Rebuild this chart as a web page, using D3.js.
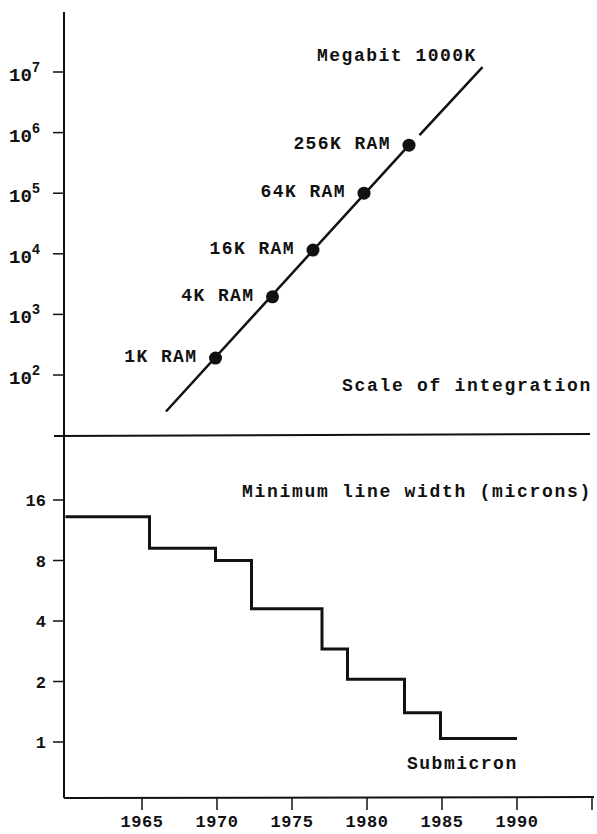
<!DOCTYPE html>
<html>
<head>
<meta charset="utf-8">
<script src="https://d3js.org/d3.v7.min.js"></script>
<style>
  body { margin: 0; background: #fff; }
  text { font-family: "Liberation Mono", "DejaVu Sans Mono", monospace; font-weight: bold; fill: #111; }
</style>
</head>
<body>
<script>
// scale of integration (bits per chip)
var ramNames = ["1K RAM", "4K RAM", "16K RAM", "64K RAM", "256K RAM"];
var ramYears = [1969.9, 1973.7, 1976.4, 1979.8, 1982.8];
var ramBits = [190, 1950, 11500, 100000, 620000];
// trend line, drawn in two pieces with a gap after 256K
var trendA = [[1966.6, 25], [1982.8, 620000]];
var trendB = [[1983.5, 910000], [1987.7, 12000000]];

// minimum line width (microns), step changes
var stepYears = [1959.9, 1965.5, 1969.9, 1972.3, 1977.0, 1978.7, 1982.5, 1984.9, 1990];
var stepWidths = [13.2, 9.2, 8.0, 4.6, 2.9, 2.05, 1.4, 1.04, 1.04];

var topTicks = [2, 3, 4, 5, 6, 7];
var botTicks = [1, 2, 4, 8, 16];
var yearTicks = [1965, 1970, 1975, 1980, 1985, 1990, 1995];

var W = 597, H = 834;
var svg = d3.select("body").append("svg").attr("width", W).attr("height", H);

var x = d3.scaleLinear().domain([1960, 1995]).range([67, 592]);
var yTop = d3.scaleLog().domain([1e2, 1e7]).range([375, 72]);
var yBot = d3.scaleLog().base(2).domain([1, 16]).range([742, 500]);

var axisX = 64, divY = 436, baseY = 798;

// axes frame
svg.append("line").attr("x1", axisX).attr("x2", axisX).attr("y1", 12).attr("y2", baseY)
  .attr("stroke", "#111").attr("stroke-width", 2);
svg.append("line").attr("x1", 54).attr("x2", 590).attr("y1", divY).attr("y2", divY - 2)
  .attr("stroke", "#111").attr("stroke-width", 2);
svg.append("line").attr("x1", axisX).attr("x2", 594).attr("y1", baseY).attr("y2", baseY - 1)
  .attr("stroke", "#111").attr("stroke-width", 2);

// top y ticks 10^n
topTicks.forEach(function(p) {
  var yy = yTop(Math.pow(10, p));
  svg.append("line").attr("x1", 53).attr("x2", axisX).attr("y1", yy).attr("y2", yy)
    .attr("stroke", "#111").attr("stroke-width", 1.5);
  var t = svg.append("text").attr("x", 9).attr("y", yy + 9).style("font-size", "19px");
  t.append("tspan").text("10");
  t.append("tspan").attr("dy", -9).style("font-size", "14px").text(p);
});

// bottom y ticks
botTicks.forEach(function(v) {
  var yy = yBot(v);
  svg.append("line").attr("x1", 53).attr("x2", axisX).attr("y1", yy).attr("y2", yy)
    .attr("stroke", "#111").attr("stroke-width", 1.5);
  svg.append("text").attr("x", 46).attr("y", yy + 6).attr("text-anchor", "end")
    .style("font-size", "17px").text(v);
});

// x ticks
yearTicks.forEach(function(yr) {
  var xx = x(yr);
  svg.append("line").attr("x1", xx).attr("x2", xx).attr("y1", baseY).attr("y2", baseY + 12)
    .attr("stroke", "#111").attr("stroke-width", 1.5);
  if (yr < 1995) {
    svg.append("text").attr("x", xx).attr("y", 827).attr("text-anchor", "middle")
      .style("font-size", "17px").style("letter-spacing", "0.5px").text(yr);
  }
});

// trend line
var lineTop = d3.line().x(function(d) { return x(d[0]); }).y(function(d) { return yTop(d[1]); });
[trendA, trendB].forEach(function(seg) {
  svg.append("path").attr("d", lineTop(seg)).attr("fill", "none")
    .attr("stroke", "#111").attr("stroke-width", 2.5);
});

// RAM points and labels
ramYears.forEach(function(yr, i) {
  var cx = x(yr), cy = yTop(ramBits[i]);
  svg.append("circle").attr("cx", cx).attr("cy", cy).attr("r", 6.5).attr("fill", "#111");
  svg.append("text").attr("x", cx - 18).attr("y", cy + 4).attr("text-anchor", "end")
    .style("font-size", "18px").style("letter-spacing", "1.4px").text(ramNames[i]);
});

svg.append("text").attr("x", 317).attr("y", 61).style("font-size", "18px")
  .style("letter-spacing", "1.5px").text("Megabit 1000K");
svg.append("text").attr("x", 342).attr("y", 391).style("font-size", "18px")
  .style("letter-spacing", "1.7px").text("Scale of integration");

// step line
var lineBot = d3.line().curve(d3.curveStepAfter)
  .x(function(d, i) { return x(stepYears[i]); })
  .y(function(d) { return yBot(d); });
svg.append("path").attr("d", lineBot(stepWidths)).attr("fill", "none")
  .attr("stroke", "#111").attr("stroke-width", 3);

svg.append("text").attr("x", 242).attr("y", 497).style("font-size", "18px")
  .style("letter-spacing", "1.7px").text("Minimum line width (microns)");
svg.append("text").attr("x", 407).attr("y", 769).style("font-size", "18px")
  .style("letter-spacing", "1.5px").text("Submicron");
</script>
</body>
</html>
